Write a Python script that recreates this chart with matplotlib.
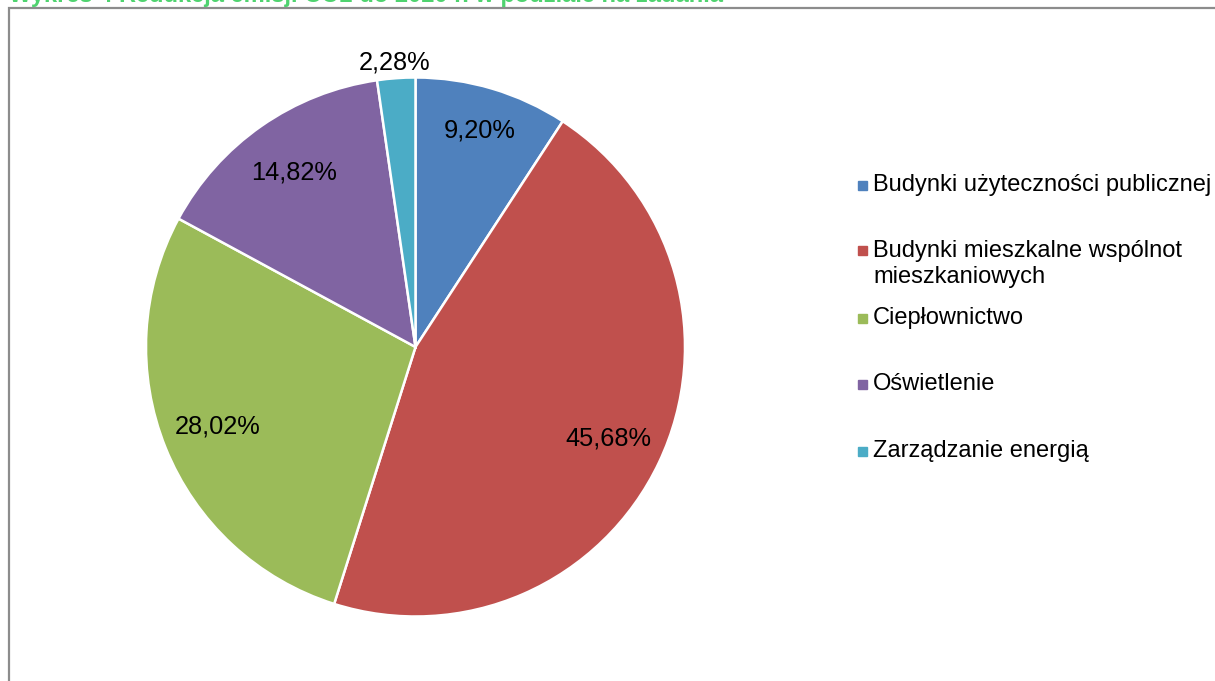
import matplotlib.pyplot as plt
import numpy as np
from matplotlib.patches import Rectangle

plt.rcParams['font.family'] = ['Liberation Sans', 'DejaVu Sans']

# dane
kategorie = ["Budynki użyteczności publicznej",
             "Budynki mieszkalne wspólnot\nmieszkaniowych",
             "Ciepłownictwo",
             "Oświetlenie",
             "Zarządzanie energią"]
udzialy = [9.20, 45.68, 28.02, 14.82, 2.28]
kolory = ["#4F81BD", "#C0504D", "#9BBB59", "#8064A2", "#4BACC6"]
tytul = "Wykres 4 Redukcja emisji CO2 do 2020 r. w podziale na zadania"

W, H = 1215, 681
fig = plt.figure(figsize=(W / 100, H / 100), dpi=100)

# ramka wykresu
fig.patches.append(Rectangle((8.5 / W, -0.1), 1.2, (H - 7.5) / H + 0.1,
                             transform=fig.transFigure, fill=False,
                             edgecolor="#8c8c8c", linewidth=1.6))

# tytul (uciety u gory, tak jak w oryginale)
fig.text(9 / W, (H - 2) / H, tytul, color="#4fd36f", fontsize=17,
         fontweight="bold", va="baseline", ha="left")

# kolo
cx, cy, r = 415.5, 347, 269.5
ax = fig.add_axes([(cx - r) / W, (H - cy - r) / H, 2 * r / W, 2 * r / H])
wedges, _ = ax.pie(udzialy, colors=kolory, startangle=90, counterclock=False,
                   radius=1, wedgeprops=dict(edgecolor="white", linewidth=1.8))
ax.set_xlim(-1, 1)
ax.set_ylim(-1, 1)
ax.set_aspect("equal")
ax.axis("off")

# etykiety procentowe
promienie = [0.84, 0.79, 0.79, 0.79, 1.06]
for w, v, pr in zip(wedges, udzialy, promienie):
    kat = np.deg2rad((w.theta1 + w.theta2) / 2)
    ax.text(pr * np.cos(kat), pr * np.sin(kat), f"{v:.2f}".replace(".", ",") + "%",
            ha="center", va="center", fontsize=18.3, color="black", clip_on=False)

# legenda
leg_y = [185, 250, 318, 384, 451]
for k, c, y in zip(kategorie, kolory, leg_y):
    fig.patches.append(Rectangle((858 / W, (H - y - 5) / H), 9 / W, 9 / H,
                                 transform=fig.transFigure, color=c))
    if "\n" in k:
        fig.text(873 / W, (H - y + 10) / H, k, fontsize=17, va="top", ha="left",
                 linespacing=1.22)
    else:
        fig.text(873 / W, (H - y) / H, k, fontsize=17, va="center", ha="left")

fig.savefig("out.png", dpi=100)
